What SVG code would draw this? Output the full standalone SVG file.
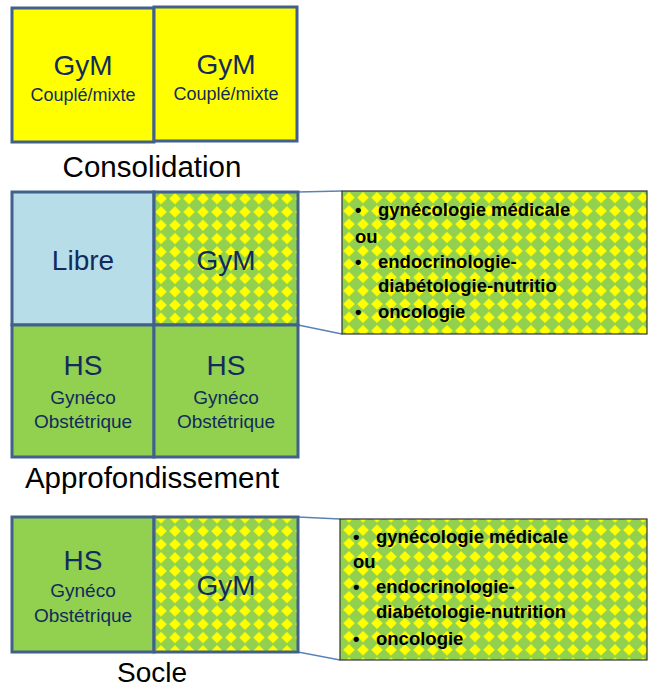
<svg xmlns="http://www.w3.org/2000/svg" width="648" height="689" viewBox="0 0 648 689">
<defs>
<pattern id="dia" patternUnits="userSpaceOnUse" x="154" y="192" width="14" height="13.3">
<rect width="14" height="13.3" fill="#92D050"/>
<polygon points="7,1 12.8,6.65 7,12.3 1.2,6.65" fill="#FFFF00"/>
</pattern>
<pattern id="dia2" patternUnits="userSpaceOnUse" x="342" y="191" width="14" height="13.3">
<rect width="14" height="13.3" fill="#92D050"/>
<polygon points="7,1 12.8,6.65 7,12.3 1.2,6.65" fill="#FFFF00"/>
</pattern>
</defs>
<style>
.cell{stroke:#41618C;stroke-width:3}
.yel{fill:#FFFF00}
.blue{fill:#B7DDE8}
.grn{fill:#92D050}
.pat{fill:url(#dia)}
.big{font-family:"Liberation Sans",Arial,sans-serif;font-size:28px;fill:#112B5C;text-anchor:middle}
.sub{font-family:"Liberation Sans",Arial,sans-serif;font-size:19px;fill:#112B5C;text-anchor:middle}
.sub2{font-family:"Liberation Sans",Arial,sans-serif;font-size:18px;fill:#112B5C;text-anchor:middle}
.lab{font-family:"Liberation Sans",Arial,sans-serif;font-size:28px;fill:#000;text-anchor:middle}
.lab2{font-size:29.5px}
.info{stroke:#333;stroke-width:1.2}
.it{font-family:"Liberation Sans",Arial,sans-serif;font-size:18.5px;font-weight:bold;fill:#000}
.conn{stroke:#5B82B8;stroke-width:1.5;fill:none}
</style>

<g id="connectors">
<line class="conn" x1="298" y1="192" x2="342" y2="191"/>
<line class="conn" x1="298" y1="325" x2="342" y2="334"/>
<line class="conn" x1="298" y1="517" x2="340" y2="519"/>
<line class="conn" x1="298" y1="652" x2="340" y2="660"/>
</g>

<g id="consolidation-1">
<rect class="cell yel" x="12" y="8" width="142" height="134"/>
<text class="big" x="83" y="75">GyM</text>
<text class="sub2" x="83" y="101">Couplé/mixte</text>
</g>
<g id="consolidation-2">
<rect class="cell yel" x="154" y="7" width="143" height="134"/>
<text class="big" x="226" y="74">GyM</text>
<text class="sub2" x="226" y="100">Couplé/mixte</text>
</g>
<g id="label-consolidation">
<text class="lab lab2" x="152" y="177">Consolidation</text>
</g>

<g id="appro-libre">
<rect class="cell blue" x="12" y="192" width="142" height="133"/>
<text class="big" x="83" y="270">Libre</text>
</g>
<g id="appro-gym">
<rect class="cell pat" x="154" y="192" width="144" height="133"/>
<text class="big" x="226" y="270">GyM</text>
</g>
<g id="appro-hs1">
<rect class="cell grn" x="12" y="325" width="142" height="132"/>
<text class="big" x="83" y="375">HS</text>
<text class="sub" x="83" y="404">Gynéco</text>
<text class="sub" x="83" y="428">Obstétrique</text>
</g>
<g id="appro-hs2">
<rect class="cell grn" x="154" y="325" width="144" height="132"/>
<text class="big" x="226" y="375">HS</text>
<text class="sub" x="226" y="404">Gynéco</text>
<text class="sub" x="226" y="428">Obstétrique</text>
</g>
<g id="label-appro">
<text class="lab lab2" x="152" y="488">Approfondissement</text>
</g>

<g id="info-appro">
<rect class="info" x="342" y="191" width="305" height="143" fill="url(#dia2)"/>
<text class="it" x="355" y="216">•</text>
<text class="it" x="378" y="216">gynécologie médicale</text>
<text class="it" x="355" y="243">ou</text>
<text class="it" x="355" y="268">•</text>
<text class="it" x="378" y="268">endocrinologie-</text>
<text class="it" x="378" y="292">diabétologie-nutritio</text>
<text class="it" x="355" y="318">•</text>
<text class="it" x="378" y="318">oncologie</text>
</g>

<g id="socle-hs">
<rect class="cell grn" x="12" y="517" width="142" height="135"/>
<text class="big" x="83" y="570">HS</text>
<text class="sub" x="83" y="597">Gynéco</text>
<text class="sub" x="83" y="622">Obstétrique</text>
</g>
<g id="socle-gym">
<rect class="cell pat" x="154" y="517" width="144" height="135"/>
<text class="big" x="226" y="595">GyM</text>
</g>
<g id="label-socle">
<text class="lab" x="152" y="682">Socle</text>
</g>

<g id="info-socle">
<rect class="info" x="340" y="519" width="307" height="141" fill="url(#dia2)"/>
<text class="it" x="353" y="543">•</text>
<text class="it" x="376" y="543">gynécologie médicale</text>
<text class="it" x="353" y="568">ou</text>
<text class="it" x="353" y="593">•</text>
<text class="it" x="376" y="593">endocrinologie-</text>
<text class="it" x="376" y="618">diabétologie-nutrition</text>
<text class="it" x="353" y="645">•</text>
<text class="it" x="376" y="645">oncologie</text>
</g>
</svg>
